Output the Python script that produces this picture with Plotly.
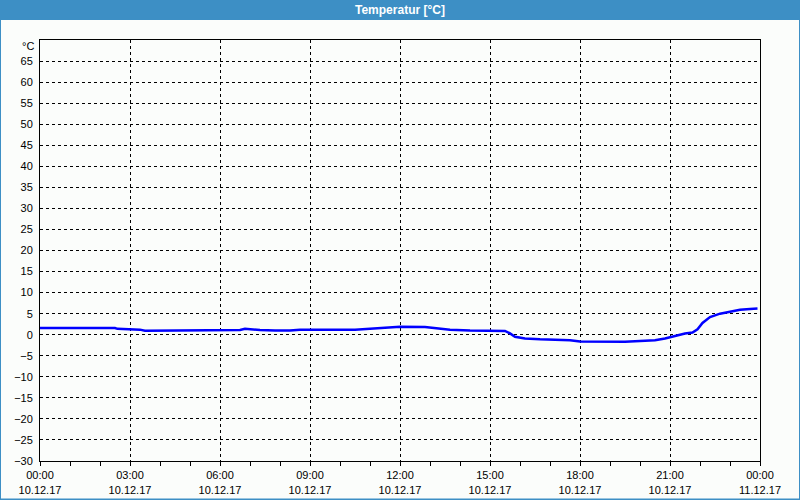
import plotly.graph_objects as go

# ---- data ----
times = ["00:00", "02:30", "02:35", "03:00", "03:20", "03:30", "04:10", "04:20",
         "06:40", "06:50", "07:00", "07:20", "07:50", "08:20", "08:40", "10:30",
         "11:00", "11:30", "12:00", "12:50", "13:10", "13:40", "14:20", "15:30",
         "15:40", "15:50", "16:10", "16:40", "17:40", "18:00", "19:30", "20:10",
         "20:30", "20:50", "21:10", "21:30", "21:45", "21:55", "22:05", "22:20",
         "22:40", "23:00", "23:20", "23:40", "23:55"]
temps = [1.6, 1.6, 1.4, 1.3, 1.2, 0.95, 0.95, 1.1,
         1.1, 1.4, 1.3, 1.1, 1.0, 1.0, 1.2, 1.2,
         1.4, 1.6, 1.9, 1.8, 1.5, 1.2, 1.0, 0.9,
         0.3, -0.5, -0.9, -1.1, -1.3, -1.6, -1.7, -1.5,
         -1.3, -0.9, -0.3, 0.3, 0.5, 1.3, 2.8, 4.2,
         5.0, 5.5, 5.9, 6.1, 6.2]
date = "2017-12-10"
x_vals = [f"{date} {t}" for t in times]

ytick_vals = list(range(-30, 70, 5))
xtick_vals = ["2017-12-10 00:00", "2017-12-10 03:00", "2017-12-10 06:00", "2017-12-10 09:00",
              "2017-12-10 12:00", "2017-12-10 15:00", "2017-12-10 18:00", "2017-12-10 21:00",
              "2017-12-11 00:00"]
xtick_text = ["00:00<br>10.12.17", "03:00<br>10.12.17", "06:00<br>10.12.17", "09:00<br>10.12.17",
              "12:00<br>10.12.17", "15:00<br>10.12.17", "18:00<br>10.12.17", "21:00<br>10.12.17",
              "00:00<br>11.12.17"]

title_text = "Temperatur [°C]"
unit_text = "°C"

# ---- figure ----
W, H = 800, 500
L, R, T, B = 40, 40, 40, 39
pw, ph = W - L - R, H - T - B

def px(x):
    return (x - L) / pw

def py(y):
    return (H - B - y) / ph

fig = go.Figure()
fig.add_trace(go.Scatter(x=x_vals, y=temps, mode="lines",
                         line=dict(color="#0000ff", width=2.5), showlegend=False,
                         hoverinfo="skip"))

font = dict(family="Liberation Sans, Arial, sans-serif", size=11, color="#000000")
bg = "#fbfdfb"
blue = "#3d8fc5"

fig.update_layout(
    width=W, height=H,
    margin=dict(l=L, r=R, t=T, b=B),
    paper_bgcolor=bg, plot_bgcolor=bg,
    font=font,
    xaxis=dict(
        type="date", automargin=False,
        range=["2017-12-10 00:00", "2017-12-11 00:00"],
        tickvals=xtick_vals, ticktext=xtick_text,
        showgrid=True, gridcolor="#000000", gridwidth=1, griddash="3px,3px",
        showline=True, linecolor="#000000", linewidth=1, mirror=True,
        ticks="outside", ticklen=4, tickcolor="#000000",
        minor=dict(dtick=3600000, ticks="outside", ticklen=4, tickcolor="#000000", showgrid=False),
        zeroline=False, fixedrange=True,
    ),
    yaxis=dict(
        range=[-30, 70], automargin=False,
        tickvals=ytick_vals,
        showgrid=True, gridcolor="#000000", gridwidth=1, griddash="3px,3px",
        showline=True, linecolor="#000000", linewidth=1, mirror=True,
        ticks="", zeroline=False, fixedrange=True, ticklabelstandoff=4,
    ),
    shapes=[
        dict(type="rect", xref="paper", yref="paper", x0=px(0), x1=px(W), y0=py(20), y1=py(0),
             fillcolor=blue, line=dict(width=0), layer="above"),
        dict(type="rect", xref="paper", yref="paper", x0=px(0), x1=px(1), y0=py(H), y1=py(0),
             fillcolor=blue, line=dict(width=0), layer="above"),
        dict(type="rect", xref="paper", yref="paper", x0=px(W - 1), x1=px(W), y0=py(H), y1=py(0),
             fillcolor=blue, line=dict(width=0), layer="above"),
        dict(type="rect", xref="paper", yref="paper", x0=px(0), x1=px(W), y0=py(H), y1=py(H - 1.5),
             fillcolor=blue, line=dict(width=0), layer="above"),
    ],
    annotations=[
        dict(text=f"<b>{title_text}</b>", xref="paper", yref="paper", x=px(400), y=py(10),
             showarrow=False, font=dict(family="Liberation Sans, Arial, sans-serif", size=12, color="#ffffff"),
             xanchor="center", yanchor="middle"),
        dict(text=unit_text, xref="paper", yref="paper", x=px(36), y=py(46),
             showarrow=False, font=font, xanchor="right", yanchor="middle"),
    ],
)

fig.write_html("out.html")
